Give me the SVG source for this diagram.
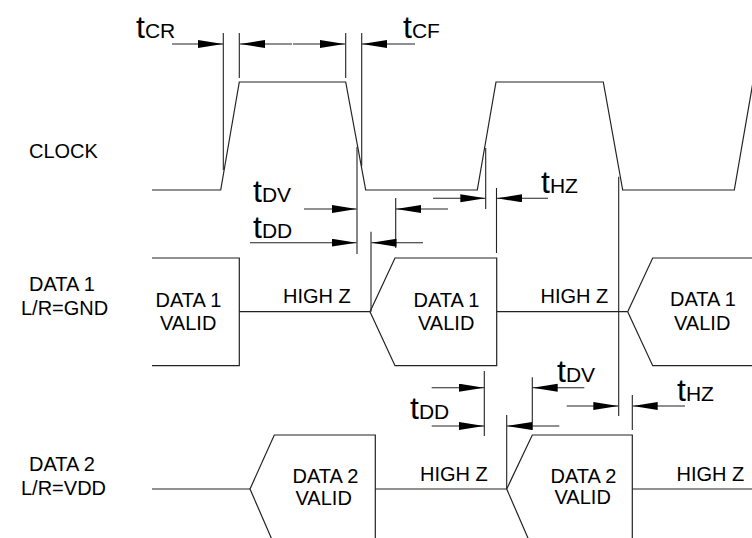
<svg xmlns="http://www.w3.org/2000/svg" width="752" height="538" viewBox="0 0 752 538">
<defs>
<marker id="ah" markerUnits="userSpaceOnUse" markerWidth="26" markerHeight="9" refX="25" refY="4" orient="auto">
<path d="M0,0 L25,4 L0,8 z" fill="#000"/>
</marker>
<style>
.w{fill:none;stroke:#222;stroke-width:1.2}
.g{fill:none;stroke:#222;stroke-width:1.1}
.a{fill:none;stroke:#222;stroke-width:1.1;marker-end:url(#ah)}
text{font-family:"Liberation Sans",Arial,sans-serif;fill:#000;font-size:20px}
.t{font-size:21px}
.big{font-size:32px}
</style>
</defs>
<rect width="752" height="538" fill="#fff"/>

<g id="labels">
<text x="29" y="158">CLOCK</text>
<text x="29" y="291">DATA 1</text>
<text x="21" y="315">L/R=GND</text>
<text x="29" y="471">DATA 2</text>
<text x="21" y="495">L/R=VDD</text>
</g>

<g id="clock">
<polyline class="w" points="152,190 220.7,190 239.3,82 345.7,82 365.7,190 477.3,190 496,82 603.3,82 622.7,190 734.3,190 753,82"/>
</g>

<g id="data1">
<polyline class="w" points="152,258 239.3,258 239.3,365.7 152,365.7"/>
<line class="w" x1="239.3" y1="311.7" x2="370" y2="311.7"/>
<polygon class="w" points="370,311.7 395,258 496.7,258 496.7,365.7 395,365.7"/>
<line class="w" x1="496.7" y1="311.7" x2="627.7" y2="311.7"/>
<polyline class="w" points="753,258 652.7,258 627.7,311.7 652.7,365.7 753,365.7"/>
<text x="155.5" y="306.7">DATA 1</text>
<text x="160" y="330">VALID</text>
<text x="283" y="303.3">HIGH Z</text>
<text x="413.5" y="306.7">DATA 1</text>
<text x="418" y="330">VALID</text>
<text x="540.5" y="303.3">HIGH Z</text>
<text x="670" y="306">DATA 1</text>
<text x="674" y="329.5">VALID</text>
</g>

<g id="data2">
<line class="w" x1="152" y1="489" x2="250" y2="489"/>
<polyline class="w" points="274.3,545 250,489 274.3,435 375.3,435 375.3,545"/>
<line class="w" x1="375.3" y1="489" x2="506.7" y2="489"/>
<polyline class="w" points="531,545 506.7,489 532.3,435 632.3,435 632.3,545"/>
<line class="w" x1="632.3" y1="489" x2="753" y2="489"/>
<text x="292.5" y="483.3">DATA 2</text>
<text x="295.5" y="505">VALID</text>
<text x="420" y="481">HIGH Z</text>
<text x="550.5" y="482.7">DATA 2</text>
<text x="554.5" y="504.3">VALID</text>
<text x="676.5" y="481">HIGH Z</text>
</g>

<g id="connectors">
<line class="g" x1="223.3" y1="33" x2="223.3" y2="170"/>
<line class="g" x1="239.3" y1="33" x2="239.3" y2="78"/>
<line class="g" x1="345.7" y1="33" x2="345.7" y2="78"/>
<line class="g" x1="361.7" y1="33" x2="361.7" y2="166"/>
<line class="g" x1="357" y1="147" x2="357" y2="254"/>
<line class="g" x1="371" y1="231.7" x2="371" y2="311.7"/>
<line class="g" x1="395.7" y1="198" x2="395.7" y2="248"/>
<line class="g" x1="485.7" y1="148" x2="485.7" y2="209"/>
<line class="g" x1="496.5" y1="188" x2="496.5" y2="253"/>
<line class="g" x1="618.7" y1="176.7" x2="618.7" y2="416"/>
<line class="g" x1="484.3" y1="371" x2="484.3" y2="436"/>
<line class="g" x1="506.7" y1="415" x2="506.7" y2="489"/>
<line class="g" x1="532.3" y1="377.3" x2="532.3" y2="430"/>
<line class="g" x1="632.3" y1="395" x2="632.3" y2="430"/>

<line class="a" x1="172" y1="44" x2="223" y2="44"/>
<line class="a" x1="292" y1="44" x2="240" y2="44"/>
<line class="a" x1="293" y1="44" x2="345" y2="44"/>
<line class="a" x1="415" y1="44" x2="362" y2="44"/>

<line class="a" x1="304" y1="209" x2="356.5" y2="209"/>
<line class="a" x1="250" y1="242.7" x2="356.5" y2="242.7"/>
<line class="a" x1="423" y1="242.7" x2="371.5" y2="242.7"/>
<line class="a" x1="448" y1="209" x2="396" y2="209"/>
<line class="a" x1="433" y1="198.3" x2="485.3" y2="198.3"/>
<line class="a" x1="548" y1="198.3" x2="497" y2="198.3"/>

<line class="a" x1="431.7" y1="387.7" x2="484" y2="387.7"/>
<line class="a" x1="431.7" y1="426" x2="484" y2="426"/>
<line class="a" x1="559.3" y1="426" x2="507" y2="426"/>
<line class="a" x1="584.3" y1="387.7" x2="532.7" y2="387.7"/>
<line class="a" x1="566.7" y1="406" x2="618.3" y2="406"/>
<line class="a" x1="685" y1="406" x2="632.7" y2="406"/>
</g>

<g id="timing-labels">
<text class="t" x="136" y="38"><tspan class="big">t</tspan>CR</text>
<text class="t" x="403" y="38"><tspan class="big">t</tspan>CF</text>
<text class="t" x="253" y="202"><tspan class="big">t</tspan>DV</text>
<text class="t" x="253" y="238"><tspan class="big">t</tspan>DD</text>
<text class="t" x="541" y="193"><tspan class="big">t</tspan>HZ</text>
<text class="t" x="410" y="419"><tspan class="big">t</tspan>DD</text>
<text class="t" x="557" y="382"><tspan class="big">t</tspan>DV</text>
<text class="t" x="677" y="401"><tspan class="big">t</tspan>HZ</text>
</g>
</svg>
